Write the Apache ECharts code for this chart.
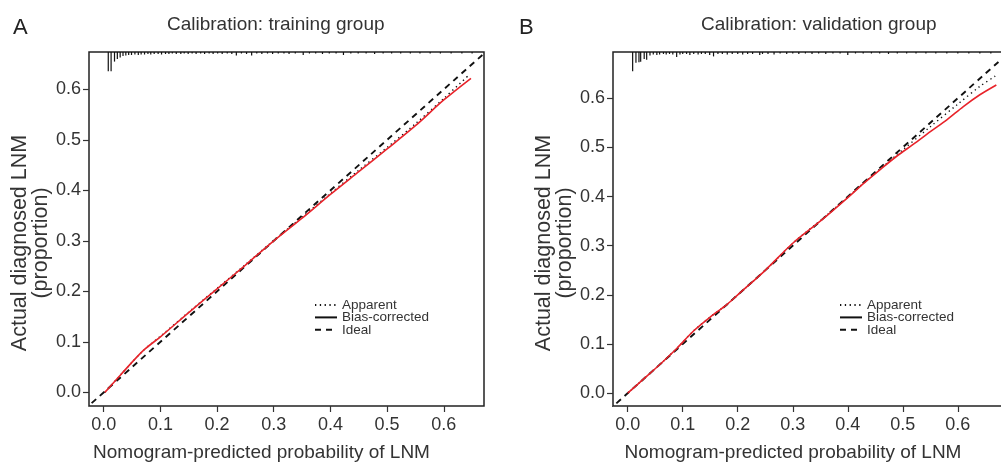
<!DOCTYPE html>
<html>
<head>
<meta charset="utf-8">
<script src="https://cdn.jsdelivr.net/npm/echarts@6/dist/echarts.min.js"></script>
<style>
  html, body { margin: 0; padding: 0; background: #fff; }
  #chart { width: 1001px; height: 463px; }
</style>
</head>
<body>
<div id="chart"></div>
<script>
// tick labels shared by both panels
var tickValues = [0, 0.1, 0.2, 0.3, 0.4, 0.5, 0.6]

// panel A: training group  [predicted, observed]
var apparentA = [[0.002, 0.0], [0.03, 0.035], [0.07, 0.083], [0.1, 0.111], [0.15, 0.159], [0.2, 0.206], [0.25, 0.253],
  [0.3, 0.301], [0.35, 0.347], [0.4, 0.394], [0.45, 0.44], [0.5, 0.485], [0.55, 0.532], [0.6, 0.582], [0.645, 0.629]]
var biasA = [[0.002, 0.0], [0.03, 0.035], [0.07, 0.083], [0.1, 0.11], [0.15, 0.158], [0.2, 0.205], [0.25, 0.252],
  [0.3, 0.3], [0.35, 0.345], [0.4, 0.392], [0.45, 0.437], [0.5, 0.482], [0.55, 0.528], [0.6, 0.579], [0.648, 0.622]]
var idealA = [[-0.05, -0.05], [0.72, 0.72]]
// rug of predicted probabilities: [x, spike length]
var rugA = [[0.008, 0.038], [0.013, 0.038], [0.019, 0.019], [0.024, 0.014], [0.029, 0.011], [0.034, 0.008], [0.039, 0.007],
  [0.044, 0.006], [0.049, 0.006], [0.055, 0.005], [0.061, 0.006], [0.066, 0.005], [0.072, 0.005], [0.078, 0.004],
  [0.083, 0.005], [0.089, 0.004], [0.096, 0.004], [0.102, 0.005], [0.109, 0.004], [0.115, 0.004], [0.121, 0.003],
  [0.128, 0.004], [0.136, 0.004], [0.142, 0.003], [0.149, 0.004], [0.156, 0.003], [0.163, 0.004], [0.171, 0.003],
  [0.178, 0.004], [0.186, 0.003], [0.193, 0.004], [0.201, 0.003], [0.209, 0.004], [0.218, 0.003], [0.226, 0.004],
  [0.234, 0.007], [0.243, 0.003], [0.252, 0.004], [0.261, 0.007], [0.27, 0.003], [0.279, 0.004], [0.289, 0.003],
  [0.298, 0.004], [0.308, 0.003], [0.318, 0.003], [0.327, 0.004], [0.338, 0.003], [0.352, 0.006], [0.363, 0.003],
  [0.374, 0.003], [0.386, 0.004], [0.398, 0.003], [0.41, 0.003], [0.423, 0.006], [0.436, 0.003], [0.449, 0.003],
  [0.463, 0.003], [0.478, 0.004], [0.493, 0.003], [0.508, 0.003], [0.524, 0.003], [0.541, 0.003], [0.558, 0.003],
  [0.576, 0.003], [0.594, 0.003], [0.613, 0.003], [0.632, 0.003], [0.65, 0.003]]

// panel B: validation group
var apparentB = [[0.0, 0.0], [0.03, 0.03], [0.06, 0.06], [0.09, 0.092], [0.12, 0.127], [0.15, 0.155], [0.18, 0.18],
  [0.2, 0.2], [0.25, 0.25], [0.3, 0.305], [0.35, 0.351], [0.4, 0.399], [0.45, 0.448], [0.5, 0.495], [0.55, 0.542],
  [0.6, 0.588], [0.64, 0.624], [0.668, 0.645]]
var biasB = [[0.0, 0.0], [0.03, 0.03], [0.06, 0.06], [0.09, 0.092], [0.12, 0.127], [0.15, 0.155], [0.18, 0.18],
  [0.2, 0.2], [0.25, 0.25], [0.3, 0.305], [0.35, 0.35], [0.4, 0.398], [0.43, 0.428], [0.46, 0.456], [0.49, 0.483],
  [0.52, 0.507], [0.55, 0.532], [0.58, 0.556], [0.61, 0.583], [0.64, 0.607], [0.67, 0.627]]
var idealB = [[-0.05, -0.05], [0.75, 0.75]]
var rugB = [[0.009, 0.039], [0.015, 0.022], [0.0205, 0.021], [0.0236, 0.02], [0.03, 0.014], [0.0345, 0.016],
  [0.0405, 0.007], [0.0465, 0.005], [0.053, 0.006], [0.058, 0.005], [0.065, 0.004], [0.07, 0.005], [0.076, 0.004],
  [0.082, 0.005], [0.089, 0.01], [0.095, 0.005], [0.1, 0.004], [0.107, 0.004], [0.113, 0.006], [0.12, 0.004],
  [0.128, 0.005], [0.134, 0.004], [0.141, 0.004], [0.149, 0.006], [0.156, 0.009], [0.164, 0.004], [0.172, 0.004],
  [0.181, 0.005], [0.19, 0.004], [0.2, 0.004], [0.209, 0.005], [0.218, 0.004], [0.227, 0.004], [0.24, 0.006],
  [0.245, 0.004], [0.255, 0.004], [0.266, 0.005], [0.277, 0.003], [0.289, 0.004], [0.3, 0.003], [0.311, 0.004],
  [0.323, 0.003], [0.335, 0.004], [0.347, 0.003], [0.36, 0.004], [0.373, 0.003], [0.386, 0.003], [0.4, 0.006],
  [0.414, 0.003], [0.428, 0.003], [0.443, 0.003], [0.458, 0.003], [0.474, 0.004], [0.49, 0.003], [0.507, 0.003],
  [0.524, 0.003], [0.542, 0.003], [0.56, 0.003], [0.58, 0.003], [0.6, 0.003], [0.62, 0.003], [0.64, 0.003], [0.66, 0.003]]

var rangeA = { xmin: -0.026, xmax: 0.671, ymin: -0.027, ymax: 0.674 }
var rangeB = { xmin: -0.0267, xmax: 0.693, ymin: -0.026, ymax: 0.694 }

var textColor = '#333'
var fontFamily = '"Liberation Sans", Arial, Helvetica, sans-serif'
var redColor = '#e8232a'

function makeX (idx, r, namePad) {
  return {
    gridIndex: idx, type: 'value', min: r.xmin, max: r.xmax,
    name: 'Nomogram-predicted probability of LNM', nameLocation: 'middle', nameGap: 37,
    nameTextStyle: { fontSize: 19, color: textColor, fontFamily: fontFamily, padding: [0, namePad, 0, 0] },
    axisLine: { show: false, onZero: false },
    splitLine: { show: false },
    axisTick: { customValues: tickValues, length: 6, lineStyle: { color: textColor, width: 1.2 } },
    axisLabel: { customValues: tickValues, fontSize: 18, color: textColor, fontFamily: fontFamily, margin: 10,
      formatter: function (v) { return v.toFixed(1) } }
  }
}

function makeY (idx, r) {
  return {
    gridIndex: idx, type: 'value', min: r.ymin, max: r.ymax,
    name: 'Actual diagnosed LNM\n(proportion)', nameLocation: 'middle', nameGap: 37,
    nameTextStyle: { fontSize: 21.5, lineHeight: 21, color: textColor, fontFamily: fontFamily, padding: [0, 28, 0, 0] },
    axisLine: { show: false, onZero: false },
    splitLine: { show: false },
    axisTick: { customValues: tickValues, length: 6, lineStyle: { color: textColor, width: 1.2 } },
    axisLabel: { customValues: tickValues, fontSize: 18, color: textColor, fontFamily: fontFamily, margin: 8,
      formatter: function (v) { return v.toFixed(1) } }
  }
}

function rugSeries (idx, data, ymax) {
  return {
    type: 'custom', xAxisIndex: idx, yAxisIndex: idx, data: data, silent: true, clip: true,
    renderItem: function (params, api) {
      var p1 = api.coord([api.value(0), ymax])
      var p2 = api.coord([api.value(0), ymax - api.value(1)])
      return { type: 'line', shape: { x1: p1[0], y1: p1[1], x2: p2[0], y2: p2[1] },
        style: { stroke: '#111', lineWidth: 1.2 } }
    }
  }
}

function lineSeries (idx, name, data, style) {
  return {
    type: 'line', name: name, xAxisIndex: idx, yAxisIndex: idx, data: data,
    symbol: 'none', smooth: 0.3, silent: true, clip: true, z: style.z || 2,
    lineStyle: style, itemStyle: { color: style.color }
  }
}

function makeLegend (left) {
  return {
    orient: 'vertical', left: left, top: 298, padding: 0, itemGap: -1.6,
    itemWidth: 22, itemHeight: 12, selectedMode: false,
    lineStyle: { color: '#111' },
    itemStyle: { color: 'transparent', borderWidth: 0, opacity: 0 },
    textStyle: { fontSize: 13.5, lineHeight: 12, color: textColor, fontFamily: fontFamily },
    data: ['Apparent', 'Bias-corrected', 'Ideal']
  }
}

var chart = echarts.init(document.getElementById('chart'), null, { renderer: 'canvas' })
var option = {
  animation: false,
  backgroundColor: '#fff',
  title: [
    { text: 'A', left: 13, top: 17, padding: 0, textStyle: { fontSize: 22, fontWeight: 'normal', color: '#222', fontFamily: fontFamily } },
    { text: 'B', left: 519, top: 17, padding: 0, textStyle: { fontSize: 22, fontWeight: 'normal', color: '#222', fontFamily: fontFamily } },
    { text: 'Calibration: training group', left: 167, top: 15, padding: 0, textStyle: { fontSize: 19, fontWeight: 'normal', color: textColor, fontFamily: fontFamily } },
    { text: 'Calibration: validation group', left: 701, top: 15, padding: 0, textStyle: { fontSize: 19, fontWeight: 'normal', color: textColor, fontFamily: fontFamily } }
  ],
  legend: [makeLegend(314), makeLegend(839)],
  grid: [
    { left: 89, top: 52, width: 395, height: 354, show: true, borderColor: '#222', borderWidth: 1.5,
      backgroundColor: 'transparent', outerBoundsMode: 'none' },
    { left: 613, top: 52, width: 396, height: 354, show: true, borderColor: '#222', borderWidth: 1.5,
      backgroundColor: 'transparent', outerBoundsMode: 'none' }
  ],
  xAxis: [makeX(0, rangeA, 50), makeX(1, rangeB, 36)],
  yAxis: [makeY(0, rangeA), makeY(1, rangeB)],
  series: [
    rugSeries(0, rugA, rangeA.ymax),
    lineSeries(0, 'Apparent', apparentA, { color: '#111', width: 1.4, type: [1.3, 3.5], z: 2 }),
    lineSeries(0, 'Bias-corrected', biasA, { color: redColor, width: 1.6, type: 'solid', z: 3 }),
    lineSeries(0, 'Ideal', idealA, { color: '#111', width: 1.9, type: [6, 5], z: 2 }),
    rugSeries(1, rugB, rangeB.ymax),
    lineSeries(1, 'Apparent', apparentB, { color: '#111', width: 1.4, type: [1.3, 3.5], z: 2 }),
    lineSeries(1, 'Bias-corrected', biasB, { color: redColor, width: 1.6, type: 'solid', z: 3 }),
    lineSeries(1, 'Ideal', idealB, { color: '#111', width: 1.9, type: [6, 5], z: 2 })
  ]
}
chart.setOption(option)
</script>
</body>
</html>
